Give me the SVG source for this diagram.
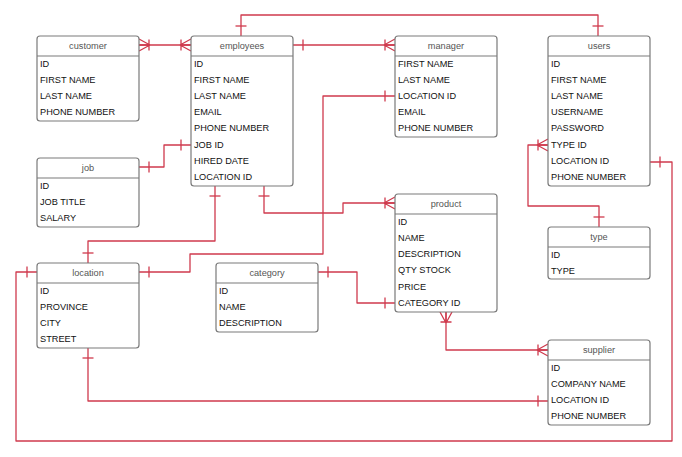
<svg xmlns="http://www.w3.org/2000/svg" width="682" height="457" viewBox="0 0 682 457">
<style>
.box{fill:#fff;stroke:#7a7a7a;stroke-width:1.2}
.hl{stroke:#7a7a7a;stroke-width:1.2}
.h{font-family:"Liberation Sans",Arial,sans-serif;font-size:9.2px;fill:#555;text-anchor:middle}
.r{font-family:"Liberation Sans",Arial,sans-serif;font-size:9.2px;fill:#111}
.c{fill:none;stroke:#cf3a4d;stroke-width:1.3;stroke-linejoin:round}
.m{fill:none;stroke:#cf3a4d;stroke-width:1.3}
</style>
<defs>
<marker id="one" viewBox="-14 -8 16 16" refX="0" refY="0" markerWidth="16" markerHeight="16" markerUnits="userSpaceOnUse" orient="auto-start-reverse">
<path class="m" d="M-10,-5.5V5.5"/>
</marker>
<marker id="many" viewBox="-14 -8 16 16" refX="0" refY="0" markerWidth="16" markerHeight="16" markerUnits="userSpaceOnUse" orient="auto-start-reverse">
<path class="m" d="M-10,-5.5V5.5M-11,0L0,-6M-11,0H0M-11,0L0,6"/>
</marker>
</defs>
<g id="connectors">
<path class="c" d="M139,45H191" marker-start="url(#many)" marker-end="url(#many)"/>
<path class="c" d="M241,36V15H598V36" marker-start="url(#one)" marker-end="url(#one)"/>
<path class="c" d="M293,45H395" marker-start="url(#one)" marker-end="url(#many)"/>
<path class="c" d="M139,167H164V145H191" marker-start="url(#one)" marker-end="url(#one)"/>
<path class="c" d="M215,186V241H88V263" marker-start="url(#one)" marker-end="url(#one)"/>
<path class="c" d="M264,186V213H343V203H395" marker-start="url(#one)" marker-end="url(#many)"/>
<path class="c" d="M139,272H190V254H323V96H395" marker-start="url(#one)" marker-end="url(#one)"/>
<path class="c" d="M318,272H357V303H395" marker-start="url(#one)" marker-end="url(#one)"/>
<path class="c" d="M446,312V350H548" marker-start="url(#many)" marker-end="url(#many)"/>
<path class="c" d="M88,348V401H548" marker-start="url(#one)" marker-end="url(#one)"/>
<path class="c" d="M548,145H528V206H599V227" marker-start="url(#many)" marker-end="url(#one)"/>
<path class="c" d="M650,162H672V441H16V272H37" marker-start="url(#one)" marker-end="url(#one)"/>
</g>
<g id="customer">
<rect class="box" x="37" y="36" width="102" height="85" rx="3"/>
<line class="hl" x1="37" y1="56" x2="139" y2="56"/>
<text class="h" x="88" y="49">customer</text>
<text class="r" x="40" y="66.5">ID</text>
<text class="r" x="40" y="82.5">FIRST NAME</text>
<text class="r" x="40" y="98.5">LAST NAME</text>
<text class="r" x="40" y="114.5">PHONE NUMBER</text>
</g>
<g id="employees">
<rect class="box" x="191" y="36" width="102" height="150" rx="3"/>
<line class="hl" x1="191" y1="56" x2="293" y2="56"/>
<text class="h" x="242" y="49">employees</text>
<text class="r" x="194" y="66.5">ID</text>
<text class="r" x="194" y="82.5">FIRST NAME</text>
<text class="r" x="194" y="98.5">LAST NAME</text>
<text class="r" x="194" y="115">EMAIL</text>
<text class="r" x="194" y="131.3">PHONE NUMBER</text>
<text class="r" x="194" y="147.6">JOB ID</text>
<text class="r" x="194" y="163.9">HIRED DATE</text>
<text class="r" x="194" y="180.2">LOCATION ID</text>
</g>
<g id="job">
<rect class="box" x="37" y="158" width="102" height="69" rx="3"/>
<line class="hl" x1="37" y1="178" x2="139" y2="178"/>
<text class="h" x="88" y="171">job</text>
<text class="r" x="40" y="188.5">ID</text>
<text class="r" x="40" y="204.8">JOB TITLE</text>
<text class="r" x="40" y="221.1">SALARY</text>
</g>
<g id="manager">
<rect class="box" x="395" y="36" width="102" height="101" rx="3"/>
<line class="hl" x1="395" y1="56" x2="497" y2="56"/>
<text class="h" x="446" y="49">manager</text>
<text class="r" x="398" y="66.5">FIRST NAME</text>
<text class="r" x="398" y="82.5">LAST NAME</text>
<text class="r" x="398" y="98.5">LOCATION ID</text>
<text class="r" x="398" y="115">EMAIL</text>
<text class="r" x="398" y="131.3">PHONE NUMBER</text>
</g>
<g id="users">
<rect class="box" x="548" y="36" width="102" height="150" rx="3"/>
<line class="hl" x1="548" y1="56" x2="650" y2="56"/>
<text class="h" x="599" y="49">users</text>
<text class="r" x="551" y="66.5">ID</text>
<text class="r" x="551" y="82.5">FIRST NAME</text>
<text class="r" x="551" y="98.5">LAST NAME</text>
<text class="r" x="551" y="115">USERNAME</text>
<text class="r" x="551" y="131.3">PASSWORD</text>
<text class="r" x="551" y="147.6">TYPE ID</text>
<text class="r" x="551" y="163.9">LOCATION ID</text>
<text class="r" x="551" y="180.2">PHONE NUMBER</text>
</g>
<g id="type">
<rect class="box" x="548" y="227" width="102" height="52" rx="3"/>
<line class="hl" x1="548" y1="247" x2="650" y2="247"/>
<text class="h" x="599" y="240">type</text>
<text class="r" x="551" y="257.5">ID</text>
<text class="r" x="551" y="273.8">TYPE</text>
</g>
<g id="product">
<rect class="box" x="395" y="194" width="102" height="118" rx="3"/>
<line class="hl" x1="395" y1="214" x2="497" y2="214"/>
<text class="h" x="446" y="207">product</text>
<text class="r" x="398" y="224.5">ID</text>
<text class="r" x="398" y="240.8">NAME</text>
<text class="r" x="398" y="257.1">DESCRIPTION</text>
<text class="r" x="398" y="273.4">QTY STOCK</text>
<text class="r" x="398" y="289.7">PRICE</text>
<text class="r" x="398" y="306">CATEGORY ID</text>
</g>
<g id="location">
<rect class="box" x="37" y="263" width="102" height="85" rx="3"/>
<line class="hl" x1="37" y1="283" x2="139" y2="283"/>
<text class="h" x="88" y="276">location</text>
<text class="r" x="40" y="293.5">ID</text>
<text class="r" x="40" y="309.8">PROVINCE</text>
<text class="r" x="40" y="326.1">CITY</text>
<text class="r" x="40" y="342.4">STREET</text>
</g>
<g id="category">
<rect class="box" x="216" y="263" width="102" height="69" rx="3"/>
<line class="hl" x1="216" y1="283" x2="318" y2="283"/>
<text class="h" x="267" y="276">category</text>
<text class="r" x="219" y="293.5">ID</text>
<text class="r" x="219" y="309.8">NAME</text>
<text class="r" x="219" y="326.1">DESCRIPTION</text>
</g>
<g id="supplier">
<rect class="box" x="548" y="340" width="102" height="85" rx="3"/>
<line class="hl" x1="548" y1="360" x2="650" y2="360"/>
<text class="h" x="599" y="353">supplier</text>
<text class="r" x="551" y="370.5">ID</text>
<text class="r" x="551" y="386.8">COMPANY NAME</text>
<text class="r" x="551" y="403.1">LOCATION ID</text>
<text class="r" x="551" y="419.4">PHONE NUMBER</text>
</g>
</svg>
